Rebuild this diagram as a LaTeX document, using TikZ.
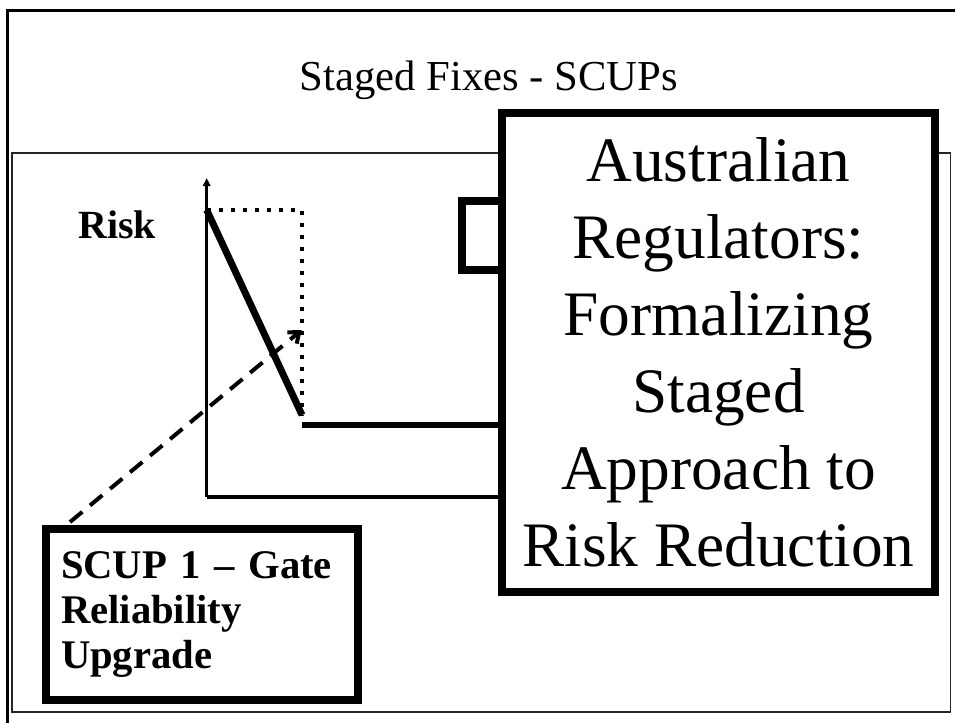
\documentclass[tikz,border=0pt]{standalone}
\usepackage{fontspec}
\setmainfont{Liberation Serif}
\usetikzlibrary{arrows.meta}
\begin{document}
\begin{tikzpicture}[x=0.75pt,y=-0.75pt,
  framestroke/.style={line width=2.2pt},
  panelstroke/.style={line width=1pt, draw=black!85},
  heavybox/.style={draw, line width=6pt, fill=white, inner sep=0pt},
  axisstroke/.style={line width=2.4pt},
  levelstroke/.style={line width=4pt},
  riskstroke/.style={line width=5.2pt},
  dotstroke/.style={line width=3.4pt, dash pattern=on 3.4pt off 5.6pt},
  pointer/.style={line width=3pt, dash pattern=on 12pt off 7.5pt,
    -{Straight Barb[length=7pt,width=11pt]}},
  titletext/.style={font=\fontsize{32}{38}\selectfont, inner sep=0pt}
]
\useasboundingbox (0,0) rectangle (955,722);
\clip (0,0) rectangle (955,722);

% page frame, running off the right and bottom edges
\draw[framestroke] (7.5,740) -- (7.5,10.5) -- (970,10.5);
% content panel
\draw[panelstroke] (12,153) rectangle (950.7,712);

\node[titletext, anchor=base] (title) at (489,90) {Staged Fixes - SCUPs};

% small tab behind the regulators box
\node[heavybox, minimum width=30pt, minimum height=52.1pt] (flag) at (482,235.75) {};

\node[heavybox, minimum width=324.75pt, minimum height=359.25pt, align=center,
      font=\fontsize{47.5}{57.75}\selectfont] (reg) at (718.5,352.5)
  {Australian\\Regulators:\\Formalizing\\Staged\\Approach to\\Risk Reduction};

\node[font=\bfseries\fontsize{30}{36}\selectfont, anchor=base west, inner sep=0pt]
  (risk) at (78,238) {Risk};

% axes
\coordinate (origin) at (206.7,497);
\coordinate (ytop) at (206.7,178);
\draw[axisstroke, -{Triangle[length=6pt,width=5.5pt]}] (origin) -- (ytop);
\draw[axisstroke] (origin) -- (origin -| reg.west);

% risk profile
\coordinate (r0) at (206.7,210);
\coordinate (rc) at (302,210);
\coordinate (r1) at (302,415);
\draw[dotstroke] (r0) -- (rc) -- (r1);
\draw[riskstroke] (r0) -- (r1);
\coordinate (lvl) at (302,425);
\draw[levelstroke] (lvl) -- (lvl -| reg.west);

% SCUP box and its pointer
\node[heavybox, minimum width=234pt, minimum height=128.25pt, text width=211.5pt,
      inner xsep=11.25pt, align=left, font=\bfseries\fontsize{30.5}{34.1}\selectfont]
  (scup) at (202,614.5) {\mbox{SCUP 1 – Gate}\\Reliability\\Upgrade};
\coordinate (ptail) at (70,522);
\coordinate (ptip) at (301.7,330);
\draw[pointer] (ptail) -- (ptip);
\end{tikzpicture}
\end{document}
